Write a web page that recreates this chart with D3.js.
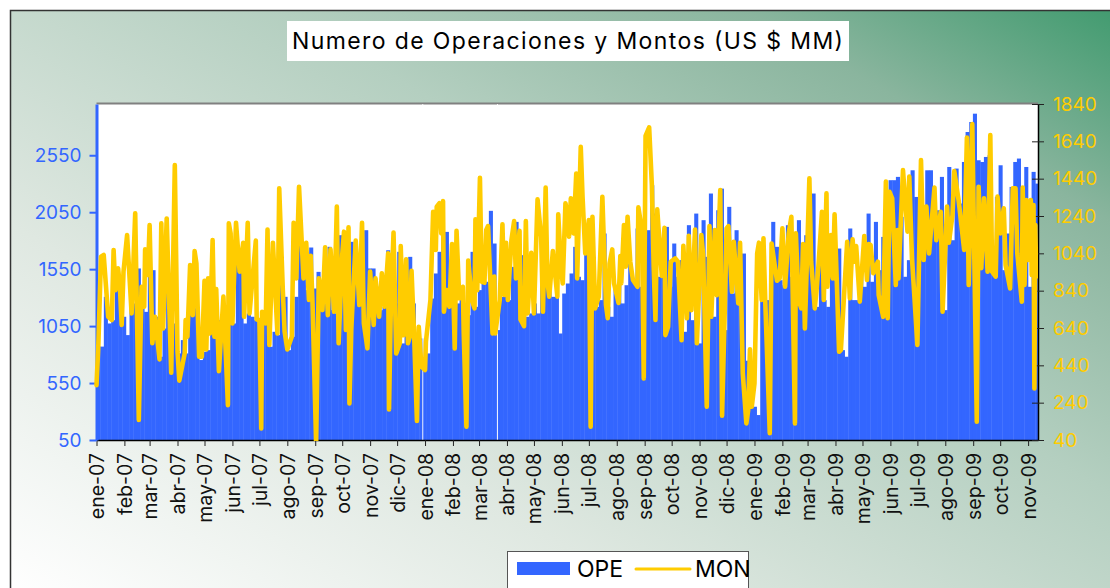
<!DOCTYPE html>
<html>
<head>
<meta charset="utf-8">
<script src="https://cdn.jsdelivr.net/npm/d3@7"></script>
<style>
    html, body { margin: 0; padding: 0; background: #fff; overflow: hidden; }
    svg { display: block; }
    text { font-family: Inter, sans-serif; }
</style>
</head>
<body>
<svg id="chart" width="1110" height="588"></svg>
<script>
// OPE: one bar every ~4 days from ene-07
let opeStepDays = 4.074
let ope = [
    870, 870, 1307, 1073, 1102, 1366, 1380, 1132, 971, 1439, 1249, 1556, 1219, 1175, 1483, 1541, 1132, 781, 1029, 1483,
    1015, 1073, 810, 927, 810, 1278, 1205, 1219, 752, 825, 839, 985, 956, 1102, 1073, 1073, 1073, 1073, 1687, 1526,
    1073, 1161, 1132, 1102, 1029, 1073, 1585, 869, 1000, 971, 1658, 1307, 839, 956, 1307, 1775, 1468, 1366, 1740, 1380,
    1526, 1190, 1249, 1746, 1190, 1161, 1848, 1687, 1015, 1790, 1570, 1234, 1278, 1892, 1556,
    1556, 1395, 1190, 1219, 1716, 1249, 1249, 1702, 898, 985, 1658, 1249, 956, 942, 678, 810, 1292, 1512, 1702, 1863,
    1877, 1336, 1716, 1249, 1278, 1073, 1146, 1702, 1219, 1366, 1439, 1439, 2062, 1775, 1015, 1307, 1322, 1278, 1570, 1965,
    1453, 1673, 1132, 1161, 1249, 1161, 1716, 1863, 1570, 1307, 1307, 985, 1336, 1424, 1512, 1746, 1483, 1453, 1716, 1366,
    1658, 1219, 1278, 1863, 1219, 1132, 1395, 1424, 1249, 1409, 1599, 1453, 1907, 1395, 1892, 1892, 2287, 2038, 1483, 1483,
    1921, 1395, 1775, 1483, 1629, 1000, 1936, 1102, 2038, 898, 1980, 1658, 2214, 1132, 2067, 2257, 1015, 2097, 1336, 1892, 1234,
    1687, 746, 342, 342, 269, 1716, 1278, 1278, 1965, 1746, 1453, 1409, 1936, 1483, 1483, 1980, 1658, 1848, 1658, 2214,
    1219, 1629, 1278, 1219, 1731, 1453, 1731, 839, 781, 1907, 1278, 1278, 1512, 1395, 2038, 1439, 1965, 1541, 1833, 1132,
    2331, 2331, 2360, 2009, 1483, 1629, 2418, 2184, 2038, 1629, 2418, 2418, 2184, 2067, 2360, 1190, 2447, 1804, 2433, 2126,
    2491, 2754, 2842, 2915, 2506, 2491, 2535, 2550, 1541, 2184, 2462, 1541, 1863, 2272, 2491, 2521, 1658, 2447, 1395, 2404, 2301
]
// days with no operations (days since 1 ene-07)
let feriados = [362, 445]

// MON: days since 1 ene-07 and amount on that day
let monDias = [
    0, 2, 5, 8, 13, 17, 19, 21, 24, 26, 28, 30, 34, 39, 43, 47, 50, 53, 54, 57, 59, 62, 65, 70, 72, 74, 78, 83, 87, 90,
    92, 98, 99, 101, 104, 107, 109, 111, 114, 117, 120, 122, 124, 126, 129, 131, 133, 136, 141, 146, 147, 149, 151, 155,
    159, 163, 164, 168, 170, 177, 178, 181, 183, 184, 188, 190, 192, 196, 201, 203, 207, 209, 212, 217, 219, 222, 225,
    230, 233, 236, 238, 240, 244, 247, 251, 254, 257, 260, 264, 267, 269, 273, 275, 277, 280, 281, 283, 288, 292, 295, 297, 301,
    304, 308, 310, 314, 317, 320, 324, 325, 327, 330, 333, 337, 338, 341, 344, 346, 348, 350, 353, 356, 358, 361, 365, 366,
    371, 374, 377, 378, 381, 383, 385, 386, 389, 392, 395, 398, 400, 403, 407, 408, 411, 413, 417, 420, 421, 423, 426, 428,
    431, 433, 435, 440, 442, 443, 448, 451, 453, 455, 457, 461, 464, 466, 470, 471, 475, 477, 479, 483, 486, 490, 494, 496,
    499, 501, 503, 507, 512, 513, 516, 518, 521, 523, 525, 527, 530, 533, 534, 538, 540, 543, 547, 549, 551, 554, 558, 562,
    566, 568, 570, 573, 575, 580, 582, 583, 586, 588, 590, 593, 596, 601, 602, 606, 608, 610, 614, 617, 619, 621, 623, 628,
    631, 632, 635, 638, 643, 646, 650, 652, 656, 658, 661, 665, 667, 672, 674, 678, 681, 683, 687, 689, 693, 695, 698, 700,
    702, 706, 708, 713,
    715, 718, 722, 724, 726, 728, 731, 734, 736, 739, 741, 743, 748, 750, 756, 759, 762, 765, 769, 772, 776, 777, 780, 783,
    785, 787, 792, 794, 798, 800, 802, 806, 808, 811, 812, 816, 818, 820, 825, 827, 834, 837, 840, 842, 844, 848, 853, 856,
    858, 860, 863, 868, 869, 874, 877, 879, 881, 884, 888, 890, 891, 896, 901, 903, 906, 908, 912, 916, 919, 922, 925, 931,
    933, 938, 940, 945, 947, 951, 953, 958, 964, 967, 969, 973, 978, 980, 983, 986, 990, 993, 995, 999, 1001, 1004, 1008,
    1010, 1015, 1018, 1021, 1023, 1028, 1029, 1031, 1033, 1035, 1038, 1039, 1041, 1042, 1043, 1044
]
let mon = [
    334, 540, 1022, 1031, 700, 683, 1058, 843, 960, 861, 656, 942, 1138, 718, 1254, 147, 861, 754, 1061, 924, 1192, 558, 700, 472, 1201, 638, 1227, 400, 1513, 513,
    358, 504, 683, 593, 977, 709, 1052, 986, 486, 486, 893, 525, 906, 611, 1111, 593, 849, 409, 808, 227, 1201, 1147, 665, 1204,
    942, 1097, 700, 1204, 718, 1108, 686, 683, 102, 727, 665, 1168, 549, 1097, 611, 1388, 843, 620, 525, 593, 1204, 906, 1397,
    906, 1097, 790, 1027, 772, 25, 906, 736, 1072, 709, 1061, 727, 1290, 558, 1031, 1156, 629, 1179, 236, 629, 1108, 763, 1204, 665, 531,
    942, 656, 906, 700, 933, 754, 1040, 204, 754, 1151, 504, 558, 1079, 602, 1008, 558, 593, 947, 584, 142, 647, 433, 415, 567,
    790, 1263, 1058, 1290, 1308, 1147, 1320, 727, 843, 754, 1090, 531, 1161, 799, 861, 611, 111, 1001, 790, 745, 1222, 843, 1445, 888,
    883, 1165, 1186, 611, 915, 611, 790, 1195, 817, 1097, 790, 1111, 1213, 906, 1161, 686, 650, 1213, 718, 1043, 718, 1329, 1129, 727,
    1392, 888, 808, 1052, 808, 1249, 959, 879, 1308, 1263, 1129, 1335, 1147, 1468, 906, 1611, 1343, 1040, 1218, 111, 1236, 745, 808, 1343,
    763, 692, 986, 1061, 879, 774, 1026, 879, 1192, 968, 1236, 995, 897, 861, 1286, 1165, 370, 1669, 1715, 1406, 968, 683, 1276, 919,
    1177, 602, 647, 995, 1013, 995, 575, 1081, 692, 1134, 736, 1168, 558, 1138, 1031, 218, 1186, 700, 1165, 816, 1379, 170, 736, 1174,
    1186, 834, 1102, 772,
    1097, 397, 129, 200, 526, 218, 343, 1040, 1097, 790, 1120, 781, 76, 1093, 893, 906, 1174, 861, 1147, 1236, 129, 1147, 790, 745,
    1090, 638, 1442, 995, 745, 843, 968, 1263, 790, 1361, 861, 1138, 906, 1249, 513, 522, 1102, 799, 1115, 995, 1079, 781, 1133, 897,
    1090, 1085, 933, 995, 817, 700, 1424, 692, 1370, 1334, 870, 1165, 906, 1486, 1156, 1451, 1013, 861, 549, 1540, 1004, 1290, 1040, 1392,
    1111, 1263, 727, 1290, 1097, 1245, 1481, 1317, 1058, 1660, 870, 1733, 138, 1397, 960, 1335, 942, 1674, 942, 915, 1344, 1147, 1281,
    977, 852, 1388, 1388, 1040, 781, 1392, 870, 1326, 1004, 1326, 924, 1299, 316, 1192, 915
]

let opeTicks = [50, 550, 1050, 1550, 2050, 2550]
let monTicks = [40, 240, 440, 640, 840, 1040, 1240, 1440, 1640, 1840]
let monthLabels = [
    'ene-07', 'feb-07', 'mar-07', 'abr-07', 'may-07', 'jun-07', 'jul-07', 'ago-07', 'sep-07', 'oct-07', 'nov-07', 'dic-07',
    'ene-08', 'feb-08', 'mar-08', 'abr-08', 'may-08', 'jun-08', 'jul-08', 'ago-08', 'sep-08', 'oct-08', 'nov-08', 'dic-08',
    'ene-09', 'feb-09', 'mar-09', 'abr-09', 'may-09', 'jun-09', 'jul-09', 'ago-09', 'sep-09', 'oct-09', 'nov-09'
]

const BLUE = '#3366ff', YELLOW = '#ffcc00'

function main() {
    let svg = d3.select('#chart'),
        margin = {top: 104, bottom: 148, left: 96.5, right: 72},
        width = svg.attr('width') - margin.left - margin.right,
        height = svg.attr('height') - margin.top - margin.bottom

    let start = new Date(2007, 0, 1),
        dayToDate = d => new Date(start.getTime() + d * 864e5)

    let xScale = d3.scaleTime().range([margin.left, margin.left + width]).domain([start, dayToDate(1046)]),
        yOpe = d3.scaleLinear().range([height + margin.top, margin.top]).domain([50, 3000]),
        yMon = d3.scaleLinear().range([height + margin.top, margin.top]).domain([40, 1840])

    // background
    let defs = svg.append('defs')
    let grad = defs.append('linearGradient')
        .attr('id', 'fondo')
        .attr('gradientUnits', 'userSpaceOnUse')
        .attr('x1', 0).attr('y1', 588)
        .attr('x2', 535).attr('y2', -334)
    grad.append('stop').attr('offset', '0%').attr('stop-color', '#ffffff')
    grad.append('stop').attr('offset', '30%').attr('stop-color', '#dfe8e1')
    grad.append('stop').attr('offset', '60%').attr('stop-color', '#b4cfc0')
    grad.append('stop').attr('offset', '82%').attr('stop-color', '#8ab59e')
    grad.append('stop').attr('offset', '100%').attr('stop-color', '#3f9a6e')

    defs.append('clipPath')
        .attr('id', 'plot-clip')
        .append('rect')
        .attr('x', margin.left - 3)
        .attr('y', margin.top)
        .attr('width', width + 3)
        .attr('height', height + 1)

    svg.append('rect')
        .attr('x', 10).attr('y', 10)
        .attr('width', 1100).attr('height', 578)
        .attr('fill', 'url(#fondo)')
    svg.append('path')
        .attr('d', 'M10.5,588V10.5H1110')
        .attr('fill', 'none')
        .attr('stroke', '#333')
        .attr('stroke-width', 1.5)

    // title
    svg.append('rect')
        .attr('x', 287).attr('y', 21)
        .attr('width', 562).attr('height', 40)
        .attr('fill', '#fff')
    svg.append('text')
        .attr('x', 292).attr('y', 49)
        .attr('textLength', 551)
        .attr('lengthAdjust', 'spacing')
        .attr('font-size', 23)
        .text('Numero de Operaciones y Montos (US $ MM)')

    // plot area
    svg.append('rect')
        .attr('x', margin.left).attr('y', margin.top)
        .attr('width', width).attr('height', height)
        .attr('fill', '#fff')
    svg.append('line')
        .attr('x1', margin.left).attr('x2', margin.left + width)
        .attr('y1', margin.top - 0.5).attr('y2', margin.top - 0.5)
        .attr('stroke', '#808080')
        .attr('stroke-width', 2)

    // bars, the small overlap keeps seams faint
    svg.append('g')
        .attr('clip-path', 'url(#plot-clip)')
        .selectAll('rect')
        .data(ope)
        .enter()
        .append('rect')
        .attr('x', (d, i) => xScale(dayToDate(i * opeStepDays)))
        .attr('width', (d, i) => xScale(dayToDate((i + 1) * opeStepDays)) - xScale(dayToDate(i * opeStepDays)) + 0.4)
        .attr('y', d => yOpe(d))
        .attr('height', d => yOpe(50) - yOpe(d))
        .attr('fill', BLUE)

    svg.append('g')
        .selectAll('rect')
        .data(feriados)
        .enter()
        .append('rect')
        .attr('x', d => xScale(dayToDate(d)))
        .attr('width', d => xScale(dayToDate(d + 1)) - xScale(dayToDate(d)))
        .attr('y', margin.top)
        .attr('height', height)
        .attr('fill', '#fff')

    // axes
    let xAxis = svg.append('g')
        .attr('transform', 'translate(0, ' + (height + margin.top) + ')')
        .call(d3.axisBottom(xScale)
            .tickValues(monthLabels.map((d, i) => d3.timeMonth.offset(start, i)))
            .tickFormat((d, i) => monthLabels[i])
            .tickSize(6)
            .tickSizeOuter(0))
    xAxis.select('.domain').attr('stroke', '#000').attr('stroke-width', 1.5)
    xAxis.selectAll('.tick line').attr('stroke', '#222')
    xAxis.selectAll('.tick text')
        .attr('transform', 'rotate(-90)')
        .attr('text-anchor', 'end')
        .attr('x', -13)
        .attr('y', 0)
        .attr('dy', '0.36em')
        .attr('font-size', 19.5)
        .attr('font-family', 'Inter, sans-serif')
        .attr('fill', '#111')

    let leftAxis = svg.append('g')
        .attr('transform', 'translate(' + margin.left + ', 0)')
        .call(d3.axisLeft(yOpe).tickValues(opeTicks).tickFormat(d3.format('d')).tickSize(7).tickSizeOuter(0))
    leftAxis.select('.domain').attr('stroke', BLUE).attr('stroke-width', 3)
    leftAxis.selectAll('.tick line').attr('stroke', BLUE).attr('stroke-width', 2)
    leftAxis.selectAll('.tick text')
        .attr('x', -15)
        .attr('font-size', 19)
        .attr('font-family', 'Inter, sans-serif')
        .attr('fill', BLUE)

    let rightAxis = svg.append('g')
        .attr('transform', 'translate(' + (margin.left + width) + ', 0)')
        .call(d3.axisRight(yMon).tickValues(monTicks).tickFormat(d3.format('d')).tickSize(6).tickSizeOuter(0))
    rightAxis.select('.domain').attr('stroke', '#000').attr('stroke-width', 1.5)
    rightAxis.selectAll('.tick line').attr('stroke', '#222').attr('x1', -6)
    rightAxis.selectAll('.tick text')
        .attr('x', 15)
        .attr('font-size', 19)
        .attr('font-family', 'Inter, sans-serif')
        .attr('fill', YELLOW)

    // line over the bars
    let line = d3.line()
        .x((d, i) => xScale(dayToDate(monDias[i])))
        .y(d => yMon(d))

    svg.append('path')
        .datum(mon)
        .attr('clip-path', 'url(#plot-clip)')
        .attr('d', line)
        .attr('fill', 'none')
        .attr('stroke', YELLOW)
        .attr('stroke-width', 4.6)
        .attr('stroke-linejoin', 'round')
        .attr('stroke-linecap', 'round')

    // legend, runs off the bottom of the page
    svg.append('rect')
        .attr('x', 507.5).attr('y', 551.5)
        .attr('width', 241).attr('height', 50)
        .attr('fill', '#fff')
        .attr('stroke', '#555')
    svg.append('rect')
        .attr('x', 517).attr('y', 562)
        .attr('width', 53).attr('height', 13)
        .attr('fill', BLUE)
    svg.append('text')
        .attr('x', 577).attr('y', 577)
        .attr('font-size', 23)
        .text('OPE')
    svg.append('line')
        .attr('x1', 636).attr('x2', 690)
        .attr('y1', 569).attr('y2', 569)
        .attr('stroke', YELLOW)
        .attr('stroke-width', 3)
        .attr('stroke-linecap', 'round')
    svg.append('text')
        .attr('x', 695).attr('y', 577)
        .attr('font-size', 23)
        .text('MON')
}

main()
</script>
</body>
</html>
